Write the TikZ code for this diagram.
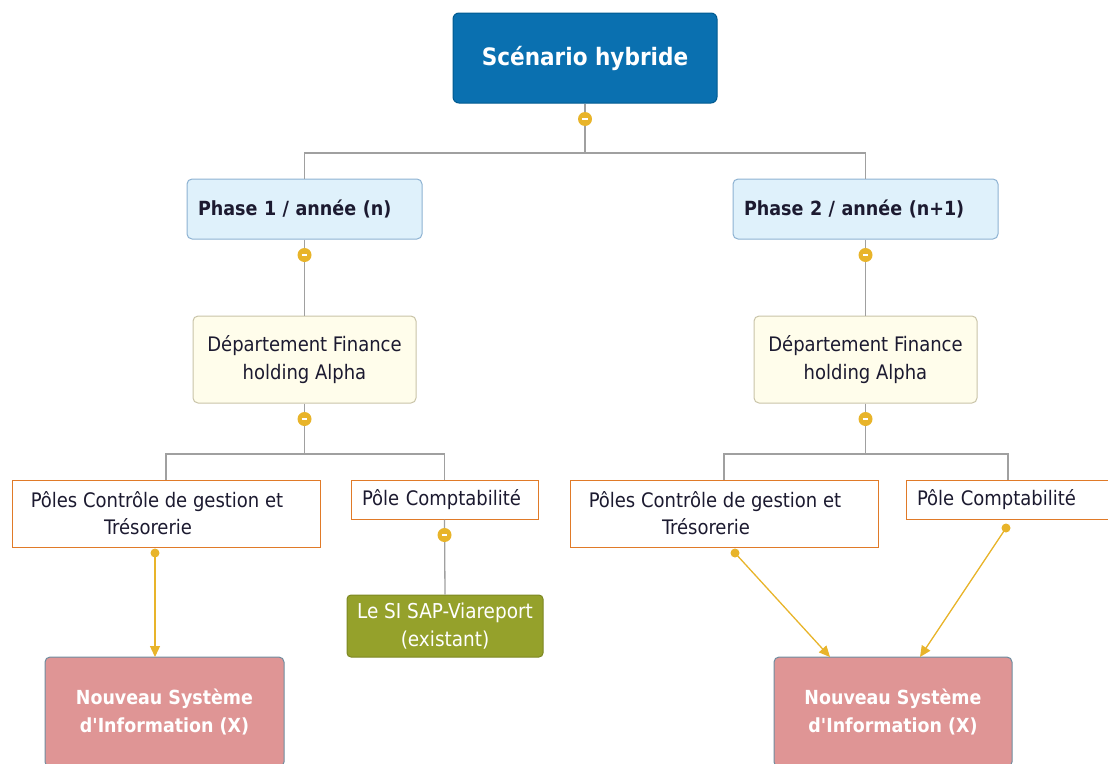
\documentclass[tikz,border=0pt]{standalone}
\usepackage{fontspec}
\setmainfont{DejaVu Sans Condensed}
\newfontfamily\plainfont{DejaVu Sans Condensed}
\usetikzlibrary{arrows.meta}
\definecolor{titleblue}{HTML}{0A70B0}
\definecolor{titleedge}{HTML}{005A90}
\definecolor{phasefill}{HTML}{DFF1FB}
\definecolor{phaseedge}{HTML}{8DB2D2}
\definecolor{deptfill}{HTML}{FFFDEB}
\definecolor{deptedge}{HTML}{C9C4A8}
\definecolor{poleedge}{HTML}{E07A28}
\definecolor{sapfill}{HTML}{95A12B}
\definecolor{sapedge}{HTML}{7C8722}
\definecolor{nsifill}{HTML}{DF9595}
\definecolor{nsiedge}{HTML}{6E8DA0}
\definecolor{knob}{HTML}{E8B42A}
\definecolor{treeline}{HTML}{A0A0A0}
\definecolor{inktext}{HTML}{1C1A30}
\tikzset{
  box/.style={draw, line width=1pt, inner sep=0pt},
  titlebox/.style={box, fill=titleblue, draw=titleedge, rounded corners=6pt,
    text=white, font=\plainfont\fontsize{24}{28}\selectfont\bfseries},
  phasebox/.style={box, fill=phasefill, draw=phaseedge, rounded corners=5pt,
    text=inktext, font=\plainfont\fontsize{19.5}{22}\selectfont\bfseries},
  deptbox/.style={box, fill=deptfill, draw=deptedge, rounded corners=5pt,
    text=inktext, align=center, font=\plainfont\fontsize{20}{28}\selectfont},
  polebox/.style={box, fill=white, draw=poleedge, text=inktext,
    font=\plainfont\fontsize{20}{27}\selectfont},
  sapbox/.style={box, fill=sapfill, draw=sapedge, rounded corners=4pt,
    text=white, align=center, font=\plainfont\fontsize{20.5}{28}\selectfont},
  nsibox/.style={box, fill=nsifill, draw=nsiedge, rounded corners=5pt,
    text=white, align=center, font=\plainfont\fontsize{19.4}{28}\selectfont\bfseries},
  tree/.style={draw=treeline, line width=1.3pt},
  knobnode/.style={circle, fill=knob, minimum size=14pt, inner sep=0pt,
    path picture={\draw[white, line width=1.8pt]
      ([xshift=-2.8pt]path picture bounding box.center) --
      ([xshift=2.8pt]path picture bounding box.center);}},
  dotnode/.style={circle, fill=knob, minimum size=9pt, inner sep=0pt},
  link/.style={draw=knob, line width=1.3pt, -{Triangle[length=11pt,width=10pt]}},
}
\begin{document}
\begin{tikzpicture}[x=1pt, y=-1pt]
\useasboundingbox (0,0) rectangle (1108,763);
\clip (0,0) rectangle (1108,763);

% root
\node[titlebox, minimum width=264pt, minimum height=90pt] (root) at (585,58) {Scénario hybride};

% phases
\node[phasebox, minimum width=235pt, minimum height=60pt, text width=213pt, align=left]
  (ph1) at (304.5,209) {Phase 1 / année (n)};
\node[phasebox, minimum width=265pt, minimum height=60pt, text width=243pt, align=left]
  (ph2) at (865.5,209) {Phase 2 / année (n+1)};

% departments
\node[deptbox, minimum width=223pt, minimum height=87pt] (dep1) at (304.5,359.5)
  {Département Finance\\holding Alpha};
\node[deptbox, minimum width=223pt, minimum height=87pt] (dep2) at (865.5,359.5)
  {Département Finance\\holding Alpha};

% poles (text sits a little left of the box centre)
\node[polebox, minimum width=308pt, minimum height=67pt, align=center] (cg1) at (166,513.5)
  {Pôles Contrôle de gestion et\hspace*{18pt}\\Trésorerie\hspace*{36pt}};
\node[polebox, minimum width=187pt, minimum height=39pt, text width=165pt, align=left]
  (cp1) at (444.5,499.5) {Pôle Comptabilité};
\node[polebox, minimum width=308pt, minimum height=67pt, align=center] (cg2) at (724,513.5)
  {Pôles Contrôle de gestion et\hspace*{18pt}\\Trésorerie\hspace*{36pt}};
\node[polebox, minimum width=204pt, minimum height=39pt, text width=182pt, align=left]
  (cp2) at (1008,499.5) {Pôle Comptabilité};

% systems
\node[sapbox, minimum width=196pt, minimum height=62pt] (sap) at (445,626)
  {Le SI SAP-Viareport\\(existant)};
\node[nsibox, minimum width=239pt, minimum height=110pt] (nsi1) at (164.5,712)
  {Nouveau Système\\d'Information (X)};
\node[nsibox, minimum width=238pt, minimum height=110pt] (nsi2) at (893,712)
  {Nouveau Système\\d'Information (X)};

% tree connectors
\coordinate (j0) at (585,153);
\coordinate (j1) at (304.5,454);
\coordinate (j2) at (865.5,454);
\draw[tree] (root.south) -- (j0);
\draw[tree] (j0) -| (ph1.north);
\draw[tree] (j0) -| (ph2.north);
\draw[tree] (ph1.south) -- (dep1.north);
\draw[tree] (ph2.south) -- (dep2.north);
\draw[tree] (dep1.south) -- (j1);
\draw[tree] (j1) -| (cg1.north);
\draw[tree] (j1) -| (cp1.north);
\draw[tree] (dep2.south) -- (j2);
\draw[tree] (j2) -| (cg2.north);
\draw[tree] (j2) -| (cp2.north);
\draw[tree] (cp1.south) -- (sap.north);

% collapse knobs
\node[knobnode] (k0) at (585,119) {};
\node[knobnode] (k1) at (304.5,255) {};
\node[knobnode] (k2) at (865.5,255) {};
\node[knobnode] (k3) at (304.5,419) {};
\node[knobnode] (k4) at (865.5,419) {};
\node[knobnode] (k5) at (444.5,535) {};

% cross links
\node[dotnode] (d1) at (155,553) {};
\node[dotnode] (d2) at (735,553) {};
\node[dotnode] (d3) at (1006,528) {};
\coordinate (t1) at (155,657);
\coordinate (t2) at (830,657);
\coordinate (t3) at (920,657);
\draw[link] (d1.center) -- (t1);
\draw[link] (d2.center) -- (t2);
\draw[link] (d3.center) -- (t3);
\end{tikzpicture}
\end{document}
